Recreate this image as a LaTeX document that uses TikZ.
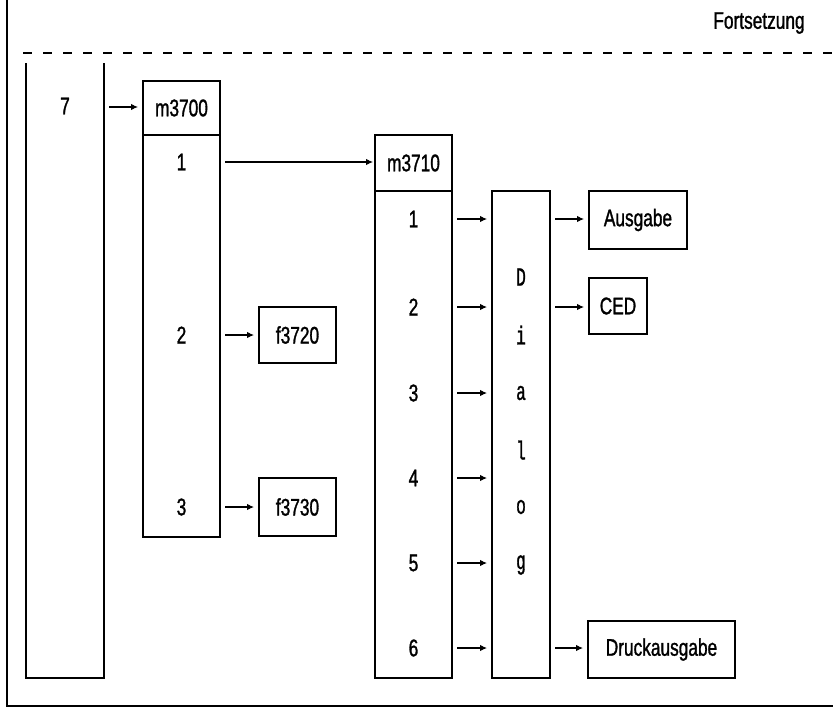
\documentclass[tikz,border=0pt]{standalone}
\usepackage{fontspec}
\setmainfont[FakeStretch=0.72,FakeBold=1.2]{Liberation Sans}
\newfontfamily\monof[FakeStretch=0.62,FakeBold=1.2]{Liberation Mono}
\usetikzlibrary{arrows.meta}
\begin{document}
\begin{tikzpicture}[x=1pt,y=-1pt,
  font=\fontsize{24}{28}\selectfont,
  every node/.style={inner sep=0pt, outer sep=0pt},
  box/.style={draw, line width=1.3pt},
  mono/.style={font=\monof\fontsize{26}{28}\selectfont},
  arr/.style={-{Latex[length=7pt,width=6.5pt]}, line width=1.1pt, shorten <=5pt, shorten >=5pt},
  frame/.style={line width=1.3pt}]
\useasboundingbox (0,0) rectangle (833,707);
% frame
\coordinate (ftop) at (7,0);
\coordinate (fcorner) at (7,706);
\coordinate (fright) at (833,706);
\draw[frame] (ftop) -- (fcorner) -- (fright);
\coordinate (dl) at (23,53);
\coordinate (dr) at (833,53);
\draw[line width=1.3pt, dash pattern=on 9pt off 11pt] (dl) -- (dr);
\node (fort) at (759,23) {Fortsetzung};

% left open box
\node (left) at (65,370.5) [minimum width=78pt, minimum height=615pt] {};
\draw[line width=1.3pt] (left.north west) -- (left.south west) -- (left.south east) -- (left.north east);
\node (t7) at (65,106) {7};

% m3700
\node[box, minimum width=77pt, minimum height=54pt] (h1) at (181.5,108) {m3700};
\node[box, minimum width=77pt, minimum height=402pt] (b1) at (181.5,336) {};
\node (r11) at (181.5,162) {1};
\node (r12) at (181.5,335) {2};
\node (r13) at (181.5,507) {3};

% f boxes
\node[box, minimum width=77pt, minimum height=56pt] (f1) at (297.5,335) {f3720};
\node[box, minimum width=77pt, minimum height=58pt] (f2) at (297.5,507) {f3730};

% m3710
\node[box, minimum width=77pt, minimum height=56pt] (h2) at (413.5,163) {m3710};
\node[box, minimum width=77pt, minimum height=487pt] (b2) at (413.5,434.5) {};
\node (r21) at (413.5,219) {1};
\node (r22) at (413.5,307) {2};
\node (r23) at (413.5,393) {3};
\node (r24) at (413.5,478) {4};
\node (r25) at (413.5,563) {5};
\node (r26) at (413.5,648) {6};

% Dialog
\node[box, minimum width=58pt, minimum height=487pt] (dia) at (521,434.5) {};
\node[mono] (dD) at (521,277) {D};
\node[mono] (di) at (521,335) {i};
\node[mono] (da) at (521,393) {a};
\node[mono] (dl2) at (521,450) {l};
\node[mono] (do) at (521,507) {o};
\node[mono] (dg) at (521,565) {g};

% outputs
\node[box, minimum width=98pt, minimum height=58pt] (aus) at (638,220) {Ausgabe};
\node[box, minimum width=58pt, minimum height=56pt] (ced) at (618,306) {CED};
\node[box, minimum width=147pt, minimum height=57pt] (druck) at (661.5,649.5) {Druckausgabe};

% arrows
\draw[arr] (left.east |- 0,107) -- (h1.west |- 0,107);
\draw[arr, shorten >=2pt] (b1.east |- r11) -- (b2.west |- r11);
\draw[arr] (b1.east |- r12) -- (f1.west |- r12);
\draw[arr] (b1.east |- r13) -- (f2.west |- r13);
\foreach \r in {r21,r22,r23,r24,r25,r26} {
  \draw[arr] (b2.east |- \r) -- (dia.west |- \r);
}
\draw[arr] (dia.east |- r21) -- (aus.west |- r21);
\draw[arr] (dia.east |- r22) -- (ced.west |- r22);
\draw[arr] (dia.east |- r26) -- (druck.west |- r26);
\end{tikzpicture}
\end{document}
